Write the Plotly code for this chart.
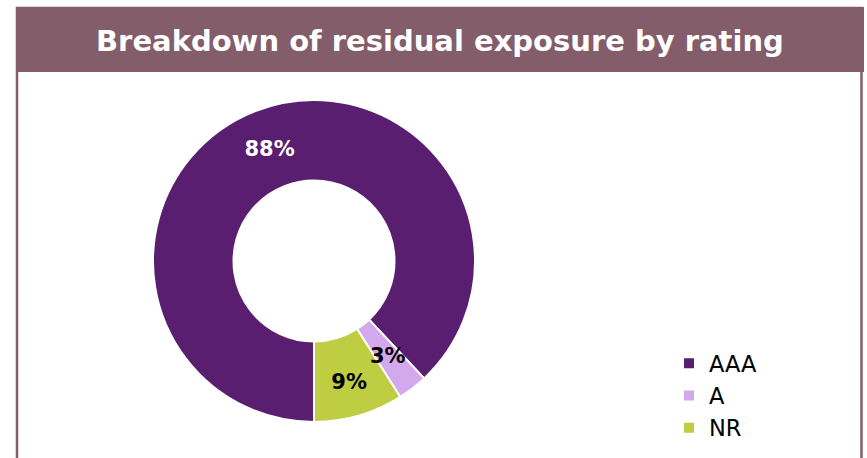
import math
import plotly.graph_objects as go

W, H = 867, 458

categories = ["AAA", "A", "NR"]
values = [88, 3, 9]
slice_colors = ["#5A1E70", "#D4A8EC", "#BFCD42"]
label_colors = ["white", "black", "black"]
title_text = "Breakdown of residual exposure by rating"

frame_color = "#835D6A"

def px_x(x):
    return x / W

def px_y(y):
    return 1 - y / H

# donut geometry (screen pixels)
cx, cy, R = 314, 261, 161
hole = 0.5
rotation = 180

fig = go.Figure()
fig.add_trace(go.Pie(
    labels=categories,
    values=values,
    hole=hole,
    sort=False,
    direction="clockwise",
    rotation=rotation,
    marker=dict(colors=slice_colors, line=dict(color="white", width=2)),
    textinfo="percent",
    textposition=["inside", "none", "inside"],
    insidetextorientation="horizontal",
    textfont=dict(family="DejaVu Sans", size=21, color=label_colors, weight="bold"),
    domain=dict(x=[px_x(cx - R), px_x(cx + R)], y=[px_y(cy + R), px_y(cy - R)]),
    hoverinfo="label+percent",
))

# label for the thin slice, placed at the middle of its ring sector
total = sum(values)
annotations = []
cum = 0
for i, v in enumerate(values):
    if i == 1:
        frac = (cum + v / 2) / total
        ang = math.radians(rotation + frac * 360)
        r = R * (1 + hole) / 2
        annotations.append(dict(
            text="<b>%d%%</b>" % round(100 * v / total), xref="paper", yref="paper",
            x=px_x(cx + r * math.sin(ang)), y=px_y(cy - r * math.cos(ang)),
            xanchor="center", yanchor="middle", showarrow=False,
            font=dict(family="DejaVu Sans", size=21, color=label_colors[i]),
        ))
    cum += v

annotations.append(dict(
    text="<b>" + title_text + "</b>", xref="paper", yref="paper",
    x=px_x(440), y=px_y(41), xanchor="center", yanchor="middle",
    showarrow=False, font=dict(family="DejaVu Sans", size=29, color="white"),
))

shapes = [
    dict(type="rect", xref="paper", yref="paper",
         x0=px_x(17), x1=px_x(861.5), y0=px_y(470), y1=px_y(8),
         line=dict(color=frame_color, width=2.5), fillcolor="rgba(0,0,0,0)", layer="below"),
    dict(type="rect", xref="paper", yref="paper",
         x0=px_x(16), x1=px_x(864), y0=px_y(72), y1=px_y(7),
         line=dict(width=0), fillcolor=frame_color, layer="below"),
]

fig.update_layout(
    width=W, height=H,
    margin=dict(l=0, r=0, t=0, b=0),
    paper_bgcolor="white",
    plot_bgcolor="white",
    shapes=shapes,
    annotations=annotations,
    showlegend=True,
    legend=dict(
        x=px_x(669), y=px_y(342), xanchor="left", yanchor="top",
        font=dict(family="DejaVu Sans", size=22.5, color="black"),
        bgcolor="rgba(0,0,0,0)",
    ),
)

fig.write_html(
    "out.html",
    config={"displayModeBar": False},
    post_script="document.body.style.margin='0px';document.body.style.overflow='hidden';",
)
